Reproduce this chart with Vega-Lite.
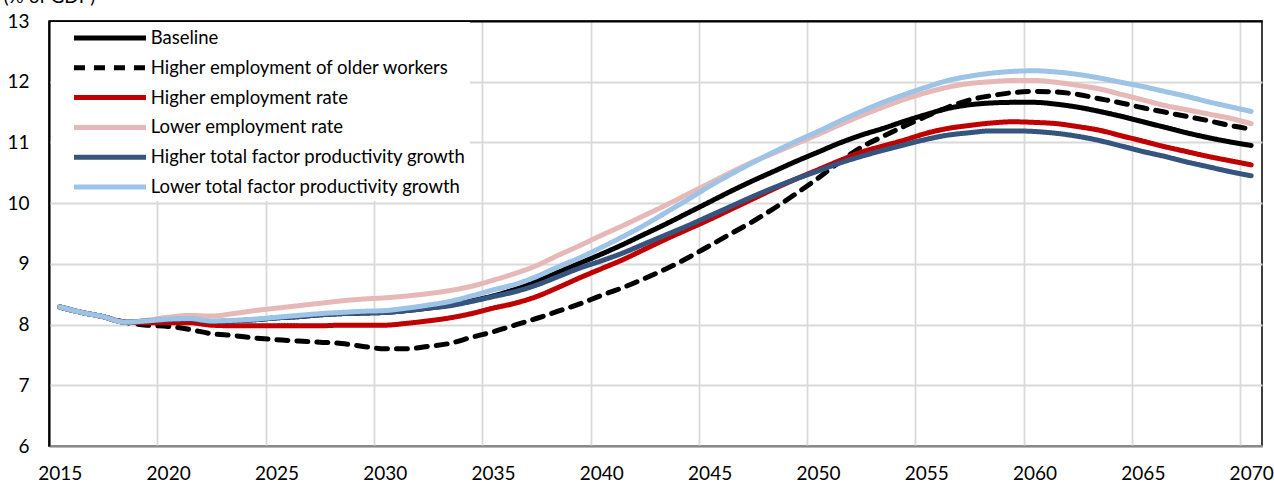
{
  "$schema": "https://vega.github.io/schema/vega-lite/v6.json",
  "width": 1213,
  "height": 425,
  "autosize": {"type": "none"},
  "padding": {"left": 49, "top": 21, "right": 12, "bottom": 36},
  "background": "white",
  "config": {"view": {"stroke": "#000", "strokeWidth": 1.5}, "font": "Lato"},
  "datasets": {
    "pension": [
      {"year": 2015, "B": 8.29, "O": 8.29, "H": 8.29, "L": 8.29, "T": 8.29, "U": 8.29},
      {"year": 2016, "B": 8.20, "O": 8.20, "H": 8.20, "L": 8.20, "T": 8.20, "U": 8.20},
      {"year": 2017, "B": 8.13, "O": 8.13, "H": 8.13, "L": 8.13, "T": 8.13, "U": 8.13},
      {"year": 2018, "B": 8.04, "O": 8.04, "H": 8.04, "L": 8.04, "T": 8.04, "U": 8.04},
      {"year": 2019, "B": 8.05, "O": 7.99, "H": 8.03, "L": 8.07, "T": 8.06, "U": 8.06},
      {"year": 2020, "B": 8.07, "O": 7.97, "H": 8.03, "L": 8.12, "T": 8.08, "U": 8.09},
      {"year": 2021, "B": 8.08, "O": 7.92, "H": 8.03, "L": 8.15, "T": 8.09, "U": 8.10},
      {"year": 2022, "B": 8.05, "O": 7.85, "H": 7.99, "L": 8.14, "T": 8.05, "U": 8.06},
      {"year": 2023, "B": 8.06, "O": 7.82, "H": 7.98, "L": 8.18, "T": 8.06, "U": 8.07},
      {"year": 2024, "B": 8.08, "O": 7.78, "H": 7.98, "L": 8.23, "T": 8.08, "U": 8.09},
      {"year": 2025, "B": 8.11, "O": 7.75, "H": 7.98, "L": 8.27, "T": 8.11, "U": 8.12},
      {"year": 2026, "B": 8.13, "O": 7.73, "H": 7.98, "L": 8.31, "T": 8.13, "U": 8.15},
      {"year": 2027, "B": 8.16, "O": 7.71, "H": 7.98, "L": 8.35, "T": 8.16, "U": 8.18},
      {"year": 2028, "B": 8.18, "O": 7.69, "H": 7.99, "L": 8.39, "T": 8.18, "U": 8.20},
      {"year": 2029, "B": 8.19, "O": 7.64, "H": 7.99, "L": 8.42, "T": 8.19, "U": 8.22},
      {"year": 2030, "B": 8.20, "O": 7.60, "H": 7.99, "L": 8.44, "T": 8.20, "U": 8.23},
      {"year": 2031, "B": 8.23, "O": 7.60, "H": 8.02, "L": 8.47, "T": 8.23, "U": 8.27},
      {"year": 2032, "B": 8.27, "O": 7.64, "H": 8.06, "L": 8.51, "T": 8.27, "U": 8.32},
      {"year": 2033, "B": 8.32, "O": 7.69, "H": 8.11, "L": 8.56, "T": 8.31, "U": 8.38},
      {"year": 2034, "B": 8.39, "O": 7.79, "H": 8.18, "L": 8.63, "T": 8.38, "U": 8.47},
      {"year": 2035, "B": 8.47, "O": 7.88, "H": 8.27, "L": 8.73, "T": 8.46, "U": 8.57},
      {"year": 2036, "B": 8.58, "O": 7.99, "H": 8.35, "L": 8.84, "T": 8.54, "U": 8.66},
      {"year": 2037, "B": 8.71, "O": 8.10, "H": 8.46, "L": 8.97, "T": 8.65, "U": 8.79},
      {"year": 2038, "B": 8.86, "O": 8.22, "H": 8.61, "L": 9.14, "T": 8.79, "U": 8.95},
      {"year": 2039, "B": 9.01, "O": 8.34, "H": 8.77, "L": 9.30, "T": 8.93, "U": 9.10},
      {"year": 2040, "B": 9.16, "O": 8.48, "H": 8.92, "L": 9.47, "T": 9.05, "U": 9.27},
      {"year": 2041, "B": 9.32, "O": 8.61, "H": 9.07, "L": 9.63, "T": 9.18, "U": 9.45},
      {"year": 2042, "B": 9.49, "O": 8.76, "H": 9.24, "L": 9.80, "T": 9.33, "U": 9.64},
      {"year": 2043, "B": 9.66, "O": 8.92, "H": 9.41, "L": 9.97, "T": 9.48, "U": 9.85},
      {"year": 2044, "B": 9.84, "O": 9.10, "H": 9.57, "L": 10.15, "T": 9.63, "U": 10.06},
      {"year": 2045, "B": 10.02, "O": 9.30, "H": 9.73, "L": 10.33, "T": 9.79, "U": 10.28},
      {"year": 2046, "B": 10.20, "O": 9.50, "H": 9.90, "L": 10.51, "T": 9.95, "U": 10.48},
      {"year": 2047, "B": 10.37, "O": 9.70, "H": 10.07, "L": 10.68, "T": 10.11, "U": 10.67},
      {"year": 2048, "B": 10.53, "O": 9.92, "H": 10.24, "L": 10.83, "T": 10.26, "U": 10.85},
      {"year": 2049, "B": 10.69, "O": 10.16, "H": 10.40, "L": 10.98, "T": 10.40, "U": 11.02},
      {"year": 2050, "B": 10.84, "O": 10.41, "H": 10.55, "L": 11.13, "T": 10.53, "U": 11.18},
      {"year": 2051, "B": 10.99, "O": 10.68, "H": 10.70, "L": 11.29, "T": 10.66, "U": 11.35},
      {"year": 2052, "B": 11.12, "O": 10.92, "H": 10.84, "L": 11.44, "T": 10.77, "U": 11.51},
      {"year": 2053, "B": 11.23, "O": 11.10, "H": 10.94, "L": 11.58, "T": 10.87, "U": 11.66},
      {"year": 2054, "B": 11.35, "O": 11.27, "H": 11.04, "L": 11.71, "T": 10.96, "U": 11.79},
      {"year": 2055, "B": 11.46, "O": 11.43, "H": 11.15, "L": 11.82, "T": 11.05, "U": 11.91},
      {"year": 2056, "B": 11.56, "O": 11.58, "H": 11.23, "L": 11.91, "T": 11.12, "U": 12.02},
      {"year": 2057, "B": 11.62, "O": 11.70, "H": 11.28, "L": 11.97, "T": 11.16, "U": 12.09},
      {"year": 2058, "B": 11.65, "O": 11.77, "H": 11.32, "L": 12.00, "T": 11.19, "U": 12.14},
      {"year": 2059, "B": 11.66, "O": 11.82, "H": 11.34, "L": 12.02, "T": 11.19, "U": 12.17},
      {"year": 2060, "B": 11.66, "O": 11.84, "H": 11.33, "L": 12.02, "T": 11.18, "U": 12.18},
      {"year": 2061, "B": 11.63, "O": 11.83, "H": 11.31, "L": 11.99, "T": 11.15, "U": 12.16},
      {"year": 2062, "B": 11.58, "O": 11.79, "H": 11.26, "L": 11.94, "T": 11.10, "U": 12.12},
      {"year": 2063, "B": 11.51, "O": 11.72, "H": 11.20, "L": 11.88, "T": 11.03, "U": 12.06},
      {"year": 2064, "B": 11.43, "O": 11.65, "H": 11.11, "L": 11.79, "T": 10.94, "U": 11.99},
      {"year": 2065, "B": 11.34, "O": 11.57, "H": 11.02, "L": 11.70, "T": 10.85, "U": 11.92},
      {"year": 2066, "B": 11.25, "O": 11.50, "H": 10.93, "L": 11.61, "T": 10.77, "U": 11.84},
      {"year": 2067, "B": 11.16, "O": 11.43, "H": 10.85, "L": 11.54, "T": 10.68, "U": 11.76},
      {"year": 2068, "B": 11.08, "O": 11.36, "H": 10.77, "L": 11.47, "T": 10.60, "U": 11.67},
      {"year": 2069, "B": 11.01, "O": 11.28, "H": 10.70, "L": 11.40, "T": 10.52, "U": 11.59},
      {"year": 2070, "B": 10.95, "O": 11.22, "H": 10.63, "L": 11.31, "T": 10.45, "U": 11.51}
    ],
    "names": [
      {"key": "B", "series": "Baseline"},
      {"key": "O", "series": "Higher employment of older workers"},
      {"key": "H", "series": "Higher employment rate"},
      {"key": "L", "series": "Lower employment rate"},
      {"key": "T", "series": "Higher total factor productivity growth"},
      {"key": "U", "series": "Lower total factor productivity growth"}
    ]
  },
  "data": {"name": "pension"},
  "transform": [
    {"fold": ["B", "O", "H", "L", "T", "U"], "as": ["key", "value"]},
    {"lookup": "key", "from": {"data": {"name": "names"}, "key": "key", "fields": ["series"]}}
  ],
  "mark": {"type": "line", "strokeWidth": 5, "interpolate": "monotone", "strokeCap": "round", "strokeJoin": "round"},
  "encoding": {
    "x": {
      "field": "year", "type": "quantitative",
      "scale": {"domain": [2014.5, 2070.5], "nice": false, "zero": false},
      "axis": {
        "title": null,
        "values": [2014.5, 2019.5, 2024.5, 2029.5, 2034.5, 2039.5, 2044.5, 2049.5, 2054.5, 2059.5, 2064.5, 2069.5],
        "labelExpr": "format(datum.value + 0.5, 'd')",
        "labelOffset": 10.83,
        "labelFlush": false,
        "labelOverlap": false,
        "labelBound": false,
        "grid": true,
        "gridColor": {"condition": {"test": "datum.value === 2014.5", "value": "#000000"}, "value": "#D9D9D9"},
        "gridWidth": 1.8,
        "ticks": false,
        "domainColor": "#898989",
        "domainWidth": 2,
        "labelFont": "Lato",
        "labelFontSize": 19,
        "labelColor": "#000000",
        "labelPadding": 18
      }
    },
    "y": {
      "field": "value", "type": "quantitative",
      "scale": {"domain": [6, 13], "nice": false, "zero": false},
      "axis": {
        "title": "(% of GDP)",
        "titleAngle": 0,
        "titleAlign": "left",
        "titleBaseline": "alphabetic",
        "titleX": -46,
        "titleY": -19,
        "titleFont": "Lato",
        "titleFontSize": 19,
        "titleFontWeight": "normal",
        "titleColor": "#000000",
        "values": [6, 7, 8, 9, 10, 11, 12, 13],
        "grid": true,
        "gridColor": {"condition": {"test": "datum.value === 13", "value": "#000000"}, "value": "#D9D9D9"},
        "gridWidth": 1.8,
        "ticks": false,
        "domain": true,
        "domainColor": "#000000",
        "domainWidth": 1.5,
        "labelFont": "Lato",
        "labelFontSize": 19,
        "labelColor": "#000000",
        "labelPadding": 20
      }
    },
    "color": {
      "field": "series", "type": "nominal",
      "scale": {
        "domain": ["Baseline", "Higher employment of older workers", "Higher employment rate", "Lower employment rate", "Higher total factor productivity growth", "Lower total factor productivity growth"],
        "range": ["#000000", "#000000", "#C00000", "#E6B9B8", "#35557F", "#9DC3E6"]
      },
      "legend": {
        "title": null,
        "orient": "none",
        "legendX": 2,
        "legendY": 1,
        "padding": 4,
        "fillColor": "white",
        "symbolType": "M-0.74,0H6.84",
        "symbolSize": 361,
        "symbolStrokeWidth": 5,
        "symbolOffset": 14,
        "labelOffset": 57.7,
        "labelFont": "Lato",
        "labelFontSize": 18.5,
        "labelColor": "#000000",
        "labelLimit": 500,
        "rowPadding": 7.8
      }
    },
    "strokeDash": {
      "field": "series", "type": "nominal",
      "scale": {
        "domain": ["Baseline", "Higher employment of older workers", "Higher employment rate", "Lower employment rate", "Higher total factor productivity growth", "Lower total factor productivity growth"],
        "range": [[1, 0], [11, 9], [1, 0], [1, 0], [1, 0], [1, 0]]
      },
      "legend": {
        "title": null,
        "orient": "none",
        "legendX": 2,
        "legendY": 1,
        "padding": 4,
        "fillColor": "white",
        "symbolType": "M-0.74,0H6.84",
        "symbolSize": 361,
        "symbolStrokeWidth": 5,
        "symbolOffset": 14,
        "labelOffset": 57.7,
        "labelFont": "Lato",
        "labelFontSize": 18.5,
        "labelColor": "#000000",
        "labelLimit": 500,
        "rowPadding": 7.8
      }
    }
  }
}
